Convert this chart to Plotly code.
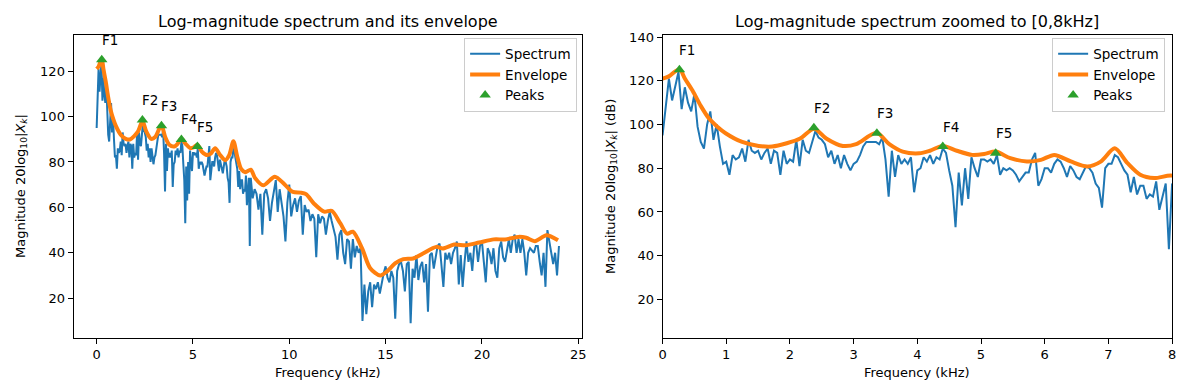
import numpy as np
import plotly.graph_objects as go

# ---------------- data ----------------
# FFT bin frequencies (kHz): fine grid to 8 kHz, coarser above
freq_lo = np.round(np.arange(0, 8.001, 0.05), 3)
freq_hi = np.round(np.arange(8.1, 24.001, 0.1), 3)

spec_lo = [
    95, 107, 121, 111, 117, 124, 107, 117, 110, 106, 114, 99, 92, 89, 100, 106, 93, 100, 90, 82,
    83, 77, 86, 84, 85, 89, 83, 93, 88, 87, 88, 84, 87, 89, 82, 88, 87, 77, 88, 82,
    84, 83, 93, 81, 93, 88, 87, 92, 97, 94, 93, 91, 85, 88, 82, 86, 80, 86, 82, 79,
    82, 83, 86, 90, 92, 92, 92, 92, 91, 94, 84, 67, 88, 76, 86, 82, 84, 82, 85, 69,
    79, 80, 85, 83, 86, 82, 85, 84, 89, 87, 79, 72, 53, 78, 63, 80, 66, 85, 80, 76,
    84, 84, 83, 84, 82, 86, 77, 80, 79, 80, 79, 77, 74, 76, 78, 78, 84, 87, 72, 75,
    80, 80, 78, 82, 84, 83, 80, 76, 81, 79, 76, 75, 78, 81, 80, 78, 73, 71, 62, 80,
    82, 82, 86, 85, 82, 79, 77, 69, 76, 68, 72, 72, 66, 68, 67, 74, 61, 67, 73, 43,
    73,
]
spec_hi = [
    64, 68, 66, 59, 66, 48, 66, 68, 64, 54,
    62, 67, 72, 58, 68, 62, 56, 45, 62, 70,
    56, 61, 64, 58, 63, 65, 48, 61, 58, 59,
    54, 57, 55, 38, 57, 53, 56, 55, 48, 54,
    58, 54, 51, 47, 37, 48, 50, 40, 35, 46,
    45, 33, 46, 38, 43, 40, 42, 10, 26, 13,
    23, 27, 16, 26, 24, 27, 22, 27, 31, 34,
    29, 27, 32, 29, 11, 32, 35, 36, 32, 23,
    35, 36, 9, 33, 29, 39, 28, 34, 36, 27,
    35, 14, 39, 40, 33, 38, 43, 44, 34, 25,
    40, 37, 40, 35, 40, 42, 45, 26, 39, 25,
    36, 45, 36, 40, 32, 43, 44, 36, 43, 45,
    36, 27, 42, 40, 35, 42, 32, 29, 42, 45,
    38, 36, 41, 46, 40, 46, 48, 40, 46, 40,
    46, 40, 30, 40, 42, 41, 40, 43, 43, 36,
    30, 40, 25, 50, 45, 40, 35, 40, 30, 43,
]

env_freq = [0.00, 0.10, 0.20, 0.27, 0.35, 0.47, 0.60, 0.73, 0.86, 0.99,
            1.25, 1.51, 1.72, 1.95, 2.16, 2.38, 2.57, 2.83, 3.04, 3.36,
            3.56, 3.77, 4.03, 4.20, 4.40, 4.62, 4.86, 5.05, 5.23, 5.46,
            5.72, 5.94, 6.15, 6.41, 6.67, 6.88, 7.10, 7.30, 7.50, 7.72,
            8.00, 8.22, 8.65, 9.25, 9.76, 10.19, 10.6, 10.87, 11.3, 11.81,
            12.2, 12.66, 13.0, 13.3, 13.78, 14.2, 14.72, 15.06, 15.49, 15.92,
            16.43, 16.94, 17.63, 17.97, 18.56, 19.16, 19.85, 20.61, 21.21, 21.9,
            22.3, 22.75, 23.35, 23.95]
env_vals = [121.0, 122.0, 124.3, 125.3, 121.0, 115.5, 108.5, 102.7, 99.0, 96.0,
            92.0, 90.2, 89.9, 91.4, 93.6, 98.1, 93.6, 90.2, 91.0, 96.2,
            91.0, 87.6, 86.8, 88.0, 90.2, 88.0, 86.1, 86.5, 87.6, 84.6,
            83.1, 83.8, 86.1, 83.1, 80.8, 83.0, 89.1, 82.3, 77.0, 75.5,
            76.6, 73.0, 69.7, 73.5, 70.1, 66.8, 66.5, 65.8, 61.5, 58.1,
            58.5, 52.8, 48.4, 49.3, 41.9, 33.2, 30.0, 31.7, 35.3, 37.2,
            37.5, 39.7, 42.6, 41.9, 43.6, 43.3, 44.5, 45.9, 45.9, 47.0,
            46.6, 45.1, 47.7, 45.5]

peak_freq = [0.265, 2.376, 3.365, 4.40, 5.23]
peak_vals = [125.0, 98.5, 96.0, 89.9, 86.8]
peak_labels = ["F1", "F2", "F3", "F4", "F5"]

titles = ["Log-magnitude spectrum and its envelope",
          "Log-magnitude spectrum zoomed to [0,8kHz]"]
ylabels = ["Magnitude 20log<sub>10</sub>|<i>X<sub>k</sub></i>|",
           "Magnitude 20log<sub>10</sub>|<i>X<sub>k</sub></i>| (dB)"]
xlabel = "Frequency (kHz)"

freq = np.concatenate([freq_lo, freq_hi])
spec = np.array(spec_lo + spec_hi, dtype=float)

# ---------------- figure ----------------
FONT = "DejaVu Sans"
W, H = 1189, 390
C0, C1, C2 = "#1f77b4", "#ff7f0e", "#2ca02c"

fig = go.Figure()
panels = [("x", "y", "legend"), ("x2", "y2", "legend2")]
for xa, ya, leg in panels:
    fig.add_trace(go.Scatter(x=freq, y=spec, mode="lines", name="Spectrum",
                             line=dict(color=C0, width=2), xaxis=xa, yaxis=ya, legend=leg))
    fig.add_trace(go.Scatter(x=env_freq, y=env_vals, mode="lines", name="Envelope",
                             line=dict(color=C1, width=4, shape="spline", smoothing=0.8),
                             xaxis=xa, yaxis=ya, legend=leg))
    fig.add_trace(go.Scatter(x=peak_freq, y=peak_vals, mode="markers", name="Peaks",
                             marker=dict(symbol="triangle-up", size=10, color=C2),
                             xaxis=xa, yaxis=ya, legend=leg))
    for f, v, lab in zip(peak_freq, peak_vals, peak_labels):
        fig.add_annotation(x=f, y=v, xref=xa, yref=ya, text=lab, showarrow=False,
                           xanchor="left", yanchor="bottom", yshift=10, xshift=-2,
                           font=dict(family=FONT, size=13.5, color="black"))

ydom = [(H - 337) / H, (H - 30) / H]
xdom1 = [70 / W, 582 / W]
xdom2 = [663 / W, 1176 / W]

axis_common = dict(showline=True, linecolor="black", linewidth=1, mirror=True,
                   ticks="outside", ticklen=5, tickwidth=1, tickcolor="black",
                   showgrid=False, zeroline=False,
                   tickfont=dict(family=FONT, size=13, color="black"))

legend_common = dict(xanchor="right", y=(H - 33) / H, yanchor="top",
                     bordercolor="#cccccc", borderwidth=1, bgcolor="rgba(255,255,255,0.8)",
                     font=dict(family=FONT, size=13.5, color="black"), itemwidth=30)

fig.update_layout(
    width=W, height=H, margin=dict(l=0, r=0, t=0, b=0),
    paper_bgcolor="white", plot_bgcolor="white",
    font=dict(family=FONT, size=13, color="black"),
    xaxis=dict(domain=xdom1, range=[-1.2, 25.2], tickvals=[0, 5, 10, 15, 20, 25], anchor="y", **axis_common),
    yaxis=dict(domain=ydom, range=[2.6, 136.1], tickvals=[20, 40, 60, 80, 100, 120], anchor="x", **axis_common),
    xaxis2=dict(domain=xdom2, range=[0, 8], tickvals=list(range(0, 9)), anchor="y2", **axis_common),
    yaxis2=dict(domain=ydom, range=[2.5, 141.1], tickvals=[20, 40, 60, 80, 100, 120, 140], anchor="x2", **axis_common),
    legend=dict(x=577 / W, **legend_common),
    legend2=dict(x=1169 / W, **legend_common),
    showlegend=True,
)

# titles and axis labels
for i, (t, yl) in enumerate(zip(titles, ylabels)):
    xd = xdom1 if i == 0 else xdom2
    fig.add_annotation(x=(xd[0] + xd[1]) / 2, y=(H - 17) / H, xref="paper", yref="paper",
                       text=t, showarrow=False, xanchor="center", yanchor="middle",
                       font=dict(family=FONT, size=16, color="black"))
    fig.add_annotation(x=(xd[0] + xd[1]) / 2, y=(H - 372) / H, xref="paper", yref="paper",
                       text=xlabel, showarrow=False, xanchor="center", yanchor="middle",
                       font=dict(family=FONT, size=13, color="black"))
    yx = 17 / W if i == 0 else 611 / W
    fig.add_annotation(x=yx, y=(ydom[0] + ydom[1]) / 2, xref="paper", yref="paper",
                       text=yl, showarrow=False, textangle=-90, xanchor="center", yanchor="middle",
                       font=dict(family=FONT, size=13, color="black"))

fig.write_html("out.html", config={"displayModeBar": False},
               post_script="document.body.style.margin='0';document.body.style.overflow='hidden';")
